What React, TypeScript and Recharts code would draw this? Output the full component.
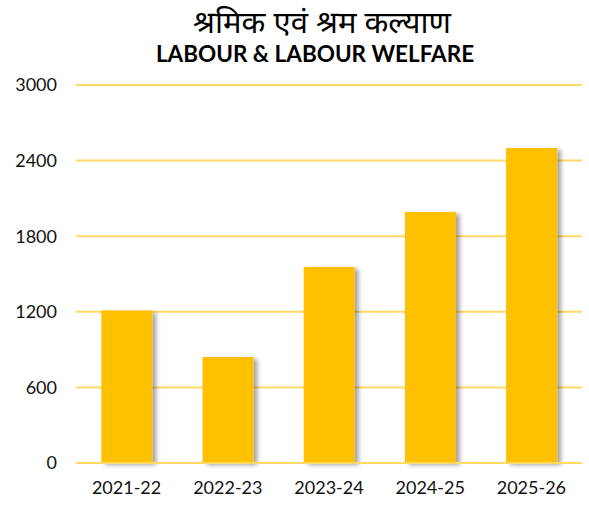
import React from "react"
import { BarChart, Bar, XAxis, YAxis, CartesianGrid } from "recharts"

const years = ["2021-22", "2022-23", "2023-24", "2024-25", "2025-26"]
const amounts = [1210, 841, 1556, 1992, 2500]
const yTicks = [0, 600, 1200, 1800, 2400, 3000]

const data = years.map((year, i) => ({ year, amount: amounts[i] }))

const FONT = "Lato, 'Noto Sans', sans-serif"

const ShadowBar = (props: any) => {
  const { x, y, width, height, fill } = props
  return (
    <g>
      <defs>
        <filter id="barShadow" x="-20%" y="-10%" width="150%" height="130%">
          <feDropShadow dx="4" dy="2" stdDeviation="2" floodColor="#000" floodOpacity="0.35" />
        </filter>
      </defs>
      <rect x={x} y={y} width={width} height={height} fill={fill} filter="url(#barShadow)" />
    </g>
  )
}

export default function App() {
  return (
    <div style={{ position: "absolute", left: 0, top: 0, width: 589, height: 506, background: "#fff", overflow: "hidden" }}>
      <div
        style={{
          position: "absolute",
          top: 2,
          left: 56,
          width: 532,
          textAlign: "center",
          fontFamily: "'Noto Sans', sans-serif",
          fontSize: 31,
          color: "#000",
          lineHeight: "38px",
        }}
      >
        श्रमिक एवं श्रम कल्याण
      </div>
      <div
        style={{
          position: "absolute",
          top: 39,
          left: 42,
          width: 546,
          textAlign: "center",
          fontFamily: FONT,
          fontWeight: 700,
          fontSize: 22.5,
          color: "#000",
          lineHeight: "30px",
        }}
      >
        LABOUR &amp; LABOUR WELFARE
      </div>
      <div style={{ position: "absolute", left: 0, top: 0 }}>
        <BarChart width={589} height={506} data={data} margin={{ top: 85, right: 7, bottom: 0, left: 16 }} barCategoryGap="25%">
          <CartesianGrid vertical={false} stroke="#FFD966" strokeWidth={2} />
          <XAxis
            dataKey="year"
            height={43}
            axisLine={{ stroke: "#FFD966", strokeWidth: 2 }}
            tickLine={false}
            tickSize={0}
            tickMargin={18}
            tick={{ fill: "#111", fontSize: 18, fontFamily: FONT }}
          />
          <YAxis
            width={60}
            domain={[0, 3000]}
            ticks={yTicks}
            axisLine={false}
            tickLine={false}
            tickSize={0}
            tickMargin={19}
            tick={{ fill: "#111", fontSize: 18, fontFamily: FONT }}
          />
          <Bar dataKey="amount" fill="#FFC000" shape={<ShadowBar />} isAnimationActive={false} />
        </BarChart>
      </div>
    </div>
  )
}
